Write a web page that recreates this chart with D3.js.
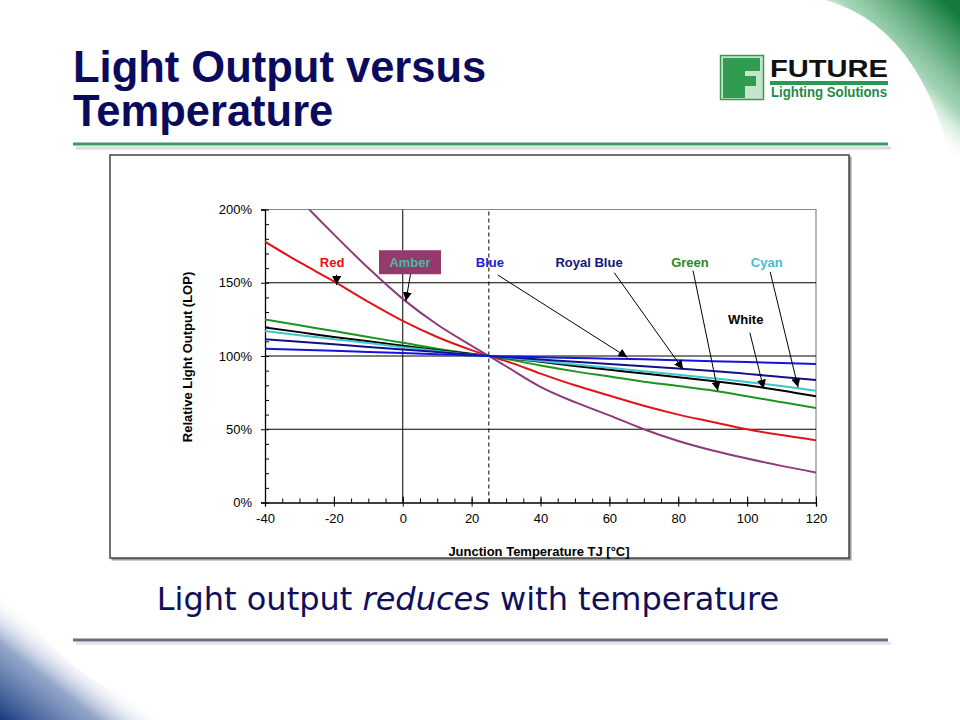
<!DOCTYPE html>
<html><head><meta charset="utf-8">
<script src="https://cdn.jsdelivr.net/npm/d3@7"></script>
<style>html,body{margin:0;padding:0;background:#fff;}svg{display:block;}</style>
</head><body>
<svg id="c" width="960" height="720"></svg>
<script>
// ---------- data ----------
const temps = [-40,-30,-20,-10,0,10,20,25,30,40,50,60,70,80,90,100,110,120];
const redLOP   = [178,164,151,137,124,113,104,100,96.5,88,80,73,66,60,55,50,46,42.5];
const amberLOP = [233,207,183,160,139,121.5,107,100,93,79,68.5,59.5,50,42,35.5,30,25,20.5];
const greenLOP = [125,121,117,113,109,105,101.5,100,98,93.5,89.5,86,82.5,79.5,76.5,72.5,68.5,64.5];
const whiteLOP = [119.5,116.3,113,110,107,104,101.3,100,98.7,96,93.2,90.6,88,85.5,83,80,76.5,72.5];
const cyanLOP  = [117,114.2,111.5,108.8,106,103.5,101,100,98.8,96.5,94.2,92,89.6,87.2,84.8,82.3,79.5,76.3];
const royalLOP = [111.5,109.7,108,106.2,104.5,102.7,100.9,100,99.2,97.6,96,94.5,93,91.5,89.8,87.8,85.7,83.6];
const blueLOP  = [105,104.2,103.5,102.7,102,101.2,100.4,100,99.7,99.2,98.7,98.2,97.7,97.1,96.5,95.9,95.2,94.5];
const xTicks = [-40,-20,0,20,40,60,80,100,120];
const yTicks = [0,50,100,150,200];
const refTemp = 25;
// label anchor [temp, LOP] and arrow from/to [temp, LOP]
const labelNames = ["Red","Amber","Blue","Royal Blue","Green","Cyan","White"];
const labelAt    = [[-20.5,164],[2.1,164],[25.3,164],[54.1,164],[83.4,164],[105.7,164],[99.6,125]];
const arrowFrom  = [[-19.2,155.5],[2.3,156.4],[27.6,155.3],[61.4,156.9],[84.3,158.2],[106.7,157.3],[100.8,115.9]];
const arrowTo    = [[-19.2,148.5],[0.9,137.5],[65.2,99.1],[81.4,90.9],[91.5,76.3],[114.8,78.6],[104.8,77.7]];

const series = [
  {name:"Red", values:redLOP, color:"#e3131b"},
  {name:"Amber", values:amberLOP, color:"#8c3a7c"},
  {name:"Green", values:greenLOP, color:"#1a961e"},
  {name:"White", values:whiteLOP, color:"#000000"},
  {name:"Cyan", values:cyanLOP, color:"#3fc4c8"},
  {name:"Royal Blue", values:royalLOP, color:"#10108a"},
  {name:"Blue", values:blueLOP, color:"#1414dc"}
];
const labelColors = {"Red":"#e01010","Amber":"#3dbfa5","Blue":"#1a1ad8","Royal Blue":"#141480","Green":"#1e8c1e","Cyan":"#40c0d0","White":"#000"};

// ---------- page ----------
const svg = d3.select("#c");
const defs = svg.append("defs");
const gG = defs.append("linearGradient").attr("id","gGreen").attr("gradientUnits","userSpaceOnUse")
  .attr("x1",872).attr("y1",82).attr("x2",948).attr("y2",4);
gG.append("stop").attr("offset",0).attr("stop-color","#fff").attr("stop-opacity",0);
gG.append("stop").attr("offset",0.35).attr("stop-color","#86c89e").attr("stop-opacity",0.75);
gG.append("stop").attr("offset",1).attr("stop-color","#137a3b");
svg.append("path").attr("d","M825,0 Q935,30 960,210 L960,0 Z").attr("fill","url(#gGreen)");

const gB = defs.append("linearGradient").attr("id","gBlue").attr("gradientUnits","userSpaceOnUse")
  .attr("x1",62).attr("y1",640).attr("x2",0).attr("y2",720);
gB.append("stop").attr("offset",0).attr("stop-color","#fff").attr("stop-opacity",0);
gB.append("stop").attr("offset",0.4).attr("stop-color","#7088b8").attr("stop-opacity",0.75);
gB.append("stop").attr("offset",1).attr("stop-color","#163a80");
svg.append("path").attr("d","M0,515 Q15,700 230,720 L0,720 Z").attr("fill","url(#gBlue)");

// title
const title = svg.append("text").attr("font-family","Liberation Sans, Arial, sans-serif")
  .attr("font-weight","bold").attr("font-size",43.5).attr("fill","#0b0b5e");
title.append("tspan").attr("x",73).attr("y",82).text("Light Output versus");
title.append("tspan").attr("x",73).attr("y",126).text("Temperature");

svg.append("rect").attr("x",76).attr("y",146.5).attr("width",815).attr("height",3).attr("fill","#dadada");
svg.append("rect").attr("x",73).attr("y",142.5).attr("width",815).attr("height",3).attr("fill","#3a9a5f");

// logo
svg.append("rect").attr("x",720.5).attr("y",55.5).attr("width",43).attr("height",44).attr("fill","#c5e4cb").attr("stroke","#3a9a52").attr("stroke-width",1.5);
svg.append("path").attr("d","M723,58 L760,58 L760,71 L745,71 L745,76 L756,76 L756,86 L745,86 L745,98 L723,98 Z").attr("fill","#2f9c50");
svg.append("text").attr("x",770).attr("y",77).attr("font-family","Liberation Sans, Arial, sans-serif").attr("font-weight","bold")
  .attr("font-size",23).attr("textLength",118).attr("lengthAdjust","spacingAndGlyphs").attr("fill","#111").text("FUTURE");
svg.append("rect").attr("x",770).attr("y",81).attr("width",118).attr("height",4).attr("fill","#2a9a50");
svg.append("text").attr("x",771).attr("y",97).attr("font-family","Liberation Sans, Arial, sans-serif").attr("font-weight","bold")
  .attr("font-size",14).attr("textLength",116).attr("lengthAdjust","spacingAndGlyphs").attr("fill","#1f8a48").text("Lighting Solutions");

// chart frame
svg.append("rect").attr("x",111.5).attr("y",156.5).attr("width",740).attr("height",404).attr("fill","#999");
svg.append("rect").attr("x",110).attr("y",155).attr("width",739).attr("height",403).attr("fill","#fff").attr("stroke","#444").attr("stroke-width",1.5);

// subtitle
const sub = svg.append("text").attr("x",468).attr("y",610).attr("text-anchor","middle")
  .attr("font-family","DejaVu Sans, Verdana, sans-serif").attr("font-size",32).attr("fill","#10105a");
sub.append("tspan").text("Light output ");
sub.append("tspan").attr("font-style","italic").text("reduces");
sub.append("tspan").text(" with temperature");
svg.append("rect").attr("x",76).attr("y",642).attr("width",815).attr("height",3).attr("fill","#e4e4ec");
svg.append("rect").attr("x",73).attr("y",638.5).attr("width",815).attr("height",3).attr("fill","#6a6a82");

// ---------- chart ----------
const x = d3.scaleLinear().domain([-40,120]).range([265,816]);
const y = d3.scaleLinear().domain([0,200]).range([502.5,209.5]);
const font = "Liberation Sans, Arial, sans-serif";
const g = svg.append("g");

// plot border (top/right)
g.append("path").attr("d",`M${x(-40)},${y(200)} H${x(120)} V${y(0)}`).attr("fill","none").attr("stroke","#888").attr("stroke-width",1.2);
// gridlines
g.selectAll(".hg").data([50,100,150]).join("line")
  .attr("x1",x(-40)).attr("x2",x(120)).attr("y1",d=>y(d)).attr("y2",d=>y(d)).attr("stroke","#000").attr("stroke-width",1);
g.append("line").attr("x1",x(0)).attr("x2",x(0)).attr("y1",y(0)).attr("y2",y(200)).attr("stroke","#000").attr("stroke-width",1);
g.append("line").attr("x1",x(refTemp)).attr("x2",x(refTemp)).attr("y1",y(0)).attr("y2",y(200))
  .attr("stroke","#000").attr("stroke-width",1).attr("stroke-dasharray","4,3");

// axes
const yAxis = g.append("g").attr("transform",`translate(${x(-40)},0)`)
  .call(d3.axisLeft(y).tickValues(yTicks).tickSize(4).tickPadding(9).tickFormat(d=>d+"%"));
const yMinor = g.append("g").attr("transform",`translate(${x(-40)},0)`)
  .call(d3.axisRight(y).tickValues(d3.range(0,201,10)).tickSize(4).tickFormat(""));
yMinor.select(".domain").remove();
const xAxis = g.append("g").attr("transform",`translate(0,${y(0)})`)
  .call(d3.axisBottom(x).tickValues(xTicks).tickSize(4).tickPadding(7).tickFormat(d=>String(d)));
const xMinor = g.append("g").attr("transform",`translate(0,${y(0)})`)
  .call(d3.axisTop(x).tickValues(d3.range(-40,121,5)).tickSize(4).tickFormat(""));
xMinor.select(".domain").remove();
const xMajUp = g.append("g").attr("transform",`translate(0,${y(0)})`)
  .call(d3.axisTop(x).tickValues(xTicks).tickSize(6).tickFormat(""));
xMajUp.select(".domain").remove();
[yAxis,yMinor,xAxis,xMinor,xMajUp].forEach(a=>{
  a.selectAll("line").attr("stroke","#000");
  a.select(".domain").attr("stroke","#000").attr("stroke-width",1.3);
  a.selectAll("text").attr("font-family",font).attr("font-size",13).attr("fill","#000");
});

// axis titles
g.append("text").attr("x",539).attr("y",556).attr("text-anchor","middle").attr("font-family",font)
  .attr("font-weight","bold").attr("font-size",13).text("Junction Temperature TJ [°C]");
g.append("text").attr("transform","translate(192,357) rotate(-90)").attr("text-anchor","middle").attr("font-family",font)
  .attr("font-weight","bold").attr("font-size",13).text("Relative Light Output (LOP)");

// clip
defs.append("clipPath").attr("id","plotClip").append("rect")
  .attr("x",x(-40)).attr("y",y(200)).attr("width",x(120)-x(-40)).attr("height",y(0)-y(200));

const line = d3.line().x((d,i)=>x(temps[i])).y(d=>y(d)).curve(d3.curveMonotoneX);
g.append("g").attr("clip-path","url(#plotClip)").selectAll("path").data(series).join("path")
  .attr("d",d=>line(d.values)).attr("fill","none").attr("stroke",d=>d.color).attr("stroke-width",2);

// arrows
defs.append("marker").attr("id","ah").attr("viewBox","0 0 10 10").attr("refX",10).attr("refY",5)
  .attr("markerWidth",9).attr("markerHeight",9).attr("markerUnits","userSpaceOnUse").attr("orient","auto")
  .append("path").attr("d","M0,0 L10,5 L0,10 Z").attr("fill","#000");
g.selectAll(".arr").data(labelNames).join("line")
  .attr("x1",(d,i)=>x(arrowFrom[i][0])).attr("y1",(d,i)=>y(arrowFrom[i][1]))
  .attr("x2",(d,i)=>x(arrowTo[i][0])).attr("y2",(d,i)=>y(arrowTo[i][1]))
  .attr("stroke","#000").attr("stroke-width",1).attr("marker-end","url(#ah)");

// Amber box
const ai = labelNames.indexOf("Amber");
g.append("rect").attr("x",x(labelAt[ai][0])-31).attr("y",y(labelAt[ai][1])-12).attr("width",62).attr("height",24).attr("fill","#953a6a");

g.selectAll(".lbl").data(labelNames).join("text")
  .attr("x",(d,i)=>x(labelAt[i][0])).attr("y",(d,i)=>y(labelAt[i][1])+4.5)
  .attr("text-anchor","middle").attr("font-family",font).attr("font-weight","bold").attr("font-size",13)
  .attr("fill",d=>labelColors[d]).text(d=>d);
</script>
</body></html>
